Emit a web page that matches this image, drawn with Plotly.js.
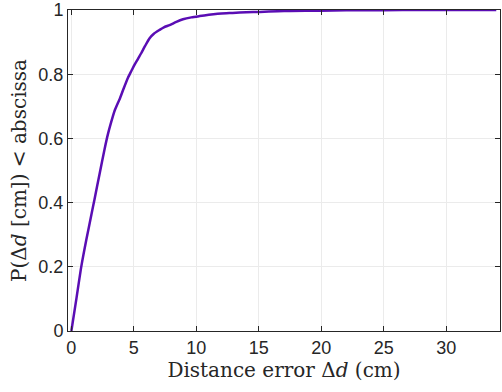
<!DOCTYPE html>
<html><head><meta charset="utf-8">
<script src="https://cdn.plot.ly/plotly-3.0.1.min.js"></script>
<style>html,body{margin:0;padding:0;background:#fff}#plot{width:502px;height:392px}</style>
</head><body><div id="plot"></div>
<script>
const errorCm = [0, 0.4, 0.8, 1.2, 1.6, 1.85, 2.26, 2.66, 2.93, 3.33, 3.46, 3.73, 3.86, 4.2, 4.53, 4.8, 5.06, 5.33, 5.6, 5.9, 6.26, 6.6, 7.06, 7.4, 7.86, 8.4, 8.93, 9.6, 10.26, 11.0, 11.7, 12.4, 12.9, 14.0, 15.1, 16.5, 17.5, 19.9, 22, 25, 28, 30, 32, 34];
const cdf = [0, 0.1, 0.202, 0.285, 0.362, 0.41, 0.49, 0.567, 0.614, 0.67, 0.686, 0.711, 0.722, 0.757, 0.789, 0.81, 0.83, 0.848, 0.866, 0.888, 0.912, 0.926, 0.938, 0.946, 0.953, 0.963, 0.971, 0.977, 0.981, 0.985, 0.988, 0.99, 0.991, 0.993, 0.994, 0.996, 0.997, 0.998, 0.999, 0.9995, 1, 1, 1, 1];
const xTicks = [0, 5, 10, 15, 20, 25, 30];
const yTicks = [0, 0.2, 0.4, 0.6, 0.8, 1];
const yTickLabels = ['0', '0.2', '0.4', '0.6', '0.8', '1'];

const tickFont = {family: 'Liberation Sans, Arial, sans-serif', size: 18, color: '#262626'};
const titleFont = {family: 'DejaVu Serif, serif', size: 20, color: '#262626'};

const axisCommon = {
  showline: true, linecolor: '#262626', linewidth: 1, mirror: 'ticks',
  ticks: 'inside', ticklen: 5, tickcolor: '#262626', tickwidth: 1,
  showgrid: true, gridcolor: '#ebebeb', gridwidth: 1,
  zeroline: false, tickfont: tickFont, ticklabeloverflow: 'allow'
};

Plotly.newPlot('plot', [{
  x: errorCm, y: cdf, type: 'scatter', mode: 'lines',
  line: {color: '#5a0db4', width: 2.5, shape: 'spline', smoothing: 0.6}, hoverinfo: 'skip'
}], {
  width: 502, height: 392,
  margin: {l: 68, r: 2, t: 10, b: 61},
  paper_bgcolor: '#ffffff', plot_bgcolor: '#ffffff',
  showlegend: false,
  xaxis: Object.assign({}, axisCommon, {
    range: [-0.27, 34.3], tickvals: xTicks,
    title: {text: 'Distance error Δ<i>d</i> (cm)', font: titleFont, standoff: 4}
  }),
  yaxis: Object.assign({}, axisCommon, {
    range: [0, 1], tickvals: yTicks, ticktext: yTickLabels,
    title: {text: 'P(Δ<i>d</i> [cm]) < abscissa', font: titleFont, standoff: 6}
  })
}, {displayModeBar: false, staticPlot: true});
</script></body></html>
